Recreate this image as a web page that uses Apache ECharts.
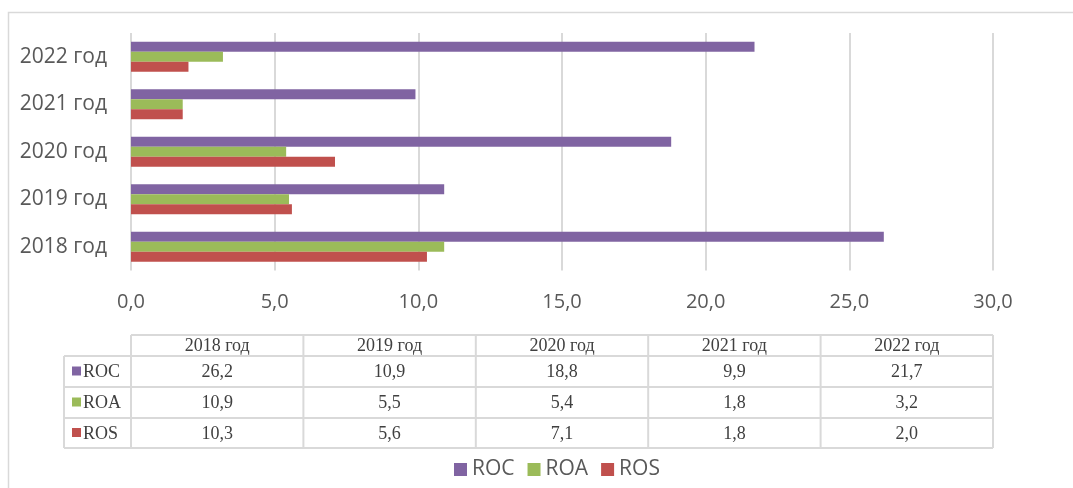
<!DOCTYPE html>
<html>
<head>
<meta charset="utf-8">
<script src="https://cdn.jsdelivr.net/npm/echarts@6/dist/echarts.min.js"></script>
<style>
  html, body { margin: 0; padding: 0; background: #fff; }
  #box1 { width: 1073px; height: 488px; }
</style>
</head>
<body>
<div id="box1"></div>
<script>
// данные из таблицы
const aYears = ['2018 год', '2019 год', '2020 год', '2021 год', '2022 год'];
const aRoc = [26.2, 10.9, 18.8, 9.9, 21.7];
const aRoa = [10.9, 5.5, 5.4, 1.8, 3.2];
const aRos = [10.3, 5.6, 7.1, 1.8, 2.0];
const aSeriesNames = ['ROC', 'ROA', 'ROS'];
const aColors = { ROC: '#8064A2', ROA: '#9BBB59', ROS: '#C0504D' };
const aXTicks = [0, 5, 10, 15, 20, 25, 30];

const fmt = v => v.toFixed(1).replace('.', ',');

const gridLeft = 131, gridRight = 80, gridTop = 33, gridHeight = 237.5;
const plotW = 1073 - gridLeft - gridRight;
const colW = plotW / aYears.length;

// таблица данных под графиком
function buildTable(){
    const els = [];
    const lineStyle = { stroke: '#d9d9d9', lineWidth: 2 };
    const txtStyle = { font: '18px "Liberation Serif", "Times New Roman", serif', fill: '#404040' };
    const yHead = 335, yRows = [356, 387, 418, 448];
    const xLab = 64, xRight = gridLeft + plotW;
    const oValues = { ROC: aRoc, ROA: aRoa, ROS: aRos };
    // горизонтальные линии
    els.push({ type: 'line', shape: { x1: gridLeft, y1: yHead, x2: xRight, y2: yHead }, style: lineStyle, silent: true });
    yRows.forEach(y => {
        els.push({ type: 'line', shape: { x1: xLab, y1: y, x2: xRight, y2: y }, style: lineStyle, silent: true });
    });
    // вертикальные линии
    els.push({ type: 'line', shape: { x1: xLab, y1: yRows[0], x2: xLab, y2: yRows[3] }, style: lineStyle, silent: true });
    for (let i = 0; i <= aYears.length; i++) {
        const x = gridLeft + i * colW;
        els.push({ type: 'line', shape: { x1: x, y1: yHead, x2: x, y2: yRows[3] }, style: lineStyle, silent: true });
    }
    // заголовок
    aYears.forEach((sYear, i) => {
        els.push({ type: 'text', x: gridLeft + (i + 0.5) * colW, y: (yHead + yRows[0]) / 2 + 1,
            style: { ...txtStyle, text: sYear, align: 'center', verticalAlign: 'middle' }, silent: true });
    });
    // строки
    aSeriesNames.forEach((sName, r) => {
        const yc = (yRows[r] + yRows[r + 1]) / 2;
        els.push({ type: 'rect', shape: { x: 72, y: yc - 5, width: 9, height: 9 }, style: { fill: aColors[sName] }, silent: true });
        els.push({ type: 'text', x: 83, y: yc + 1, style: { ...txtStyle, text: sName, align: 'left', verticalAlign: 'middle' }, silent: true });
        oValues[sName].forEach((v, i) => {
            els.push({ type: 'text', x: gridLeft + (i + 0.5) * colW, y: yc + 1,
                style: { ...txtStyle, text: fmt(v), align: 'center', verticalAlign: 'middle' }, silent: true });
        });
    });
    // рамка
    els.push({ type: 'rect', shape: { x: 8.5, y: 12.5, width: 1100, height: 500 },
        style: { fill: 'none', stroke: '#d9d9d9', lineWidth: 1.5 }, silent: true, z: -1 });
    return els;
}

const myChart = echarts.init(document.getElementById('box1'));

const oCommon = {
    type: 'bar',
    barWidth: 10,
    barGap: '0%',
};

const option = {
    animation: false,
    textStyle: { fontFamily: '"Open Sans", "Noto Sans", sans-serif' },
    grid: { left: gridLeft, right: gridRight, top: gridTop, height: gridHeight, containLabel: false },
    legend: {
        data: aSeriesNames,
        top: 454,
        left: 449,
        icon: 'rect',
        itemWidth: 13,
        itemHeight: 13,
        itemGap: 13,
        textStyle: { fontSize: 21, color: '#595959', fontFamily: '"Open Sans", sans-serif' },
    },
    xAxis: {
        type: 'value',
        min: 0,
        max: 30,
        interval: 5,
        axisLine: { show: false },
        axisTick: { show: false },
        splitLine: { lineStyle: { color: '#d9d9d9', width: 2 } },
        axisLabel: {
            margin: 22,
            fontSize: 20,
            color: '#595959',
            formatter: v => aXTicks.includes(v) ? fmt(v) : '',
        },
    },
    yAxis: {
        type: 'category',
        data: aYears,
        axisLine: { show: false },
        axisTick: { show: false },
        axisLabel: { margin: 24, fontSize: 21, color: '#595959' },
    },
    // ROC сверху, ROS снизу внутри каждой группы
    series: [
        { ...oCommon, name: 'ROC', data: aRoc, itemStyle: { color: aColors.ROC } },
        { ...oCommon, name: 'ROA', data: aRoa, itemStyle: { color: aColors.ROA } },
        { ...oCommon, name: 'ROS', data: aRos, itemStyle: { color: aColors.ROS } },
    ],
    graphic: buildTable(),
};

myChart.setOption(option);
</script>
</body>
</html>
